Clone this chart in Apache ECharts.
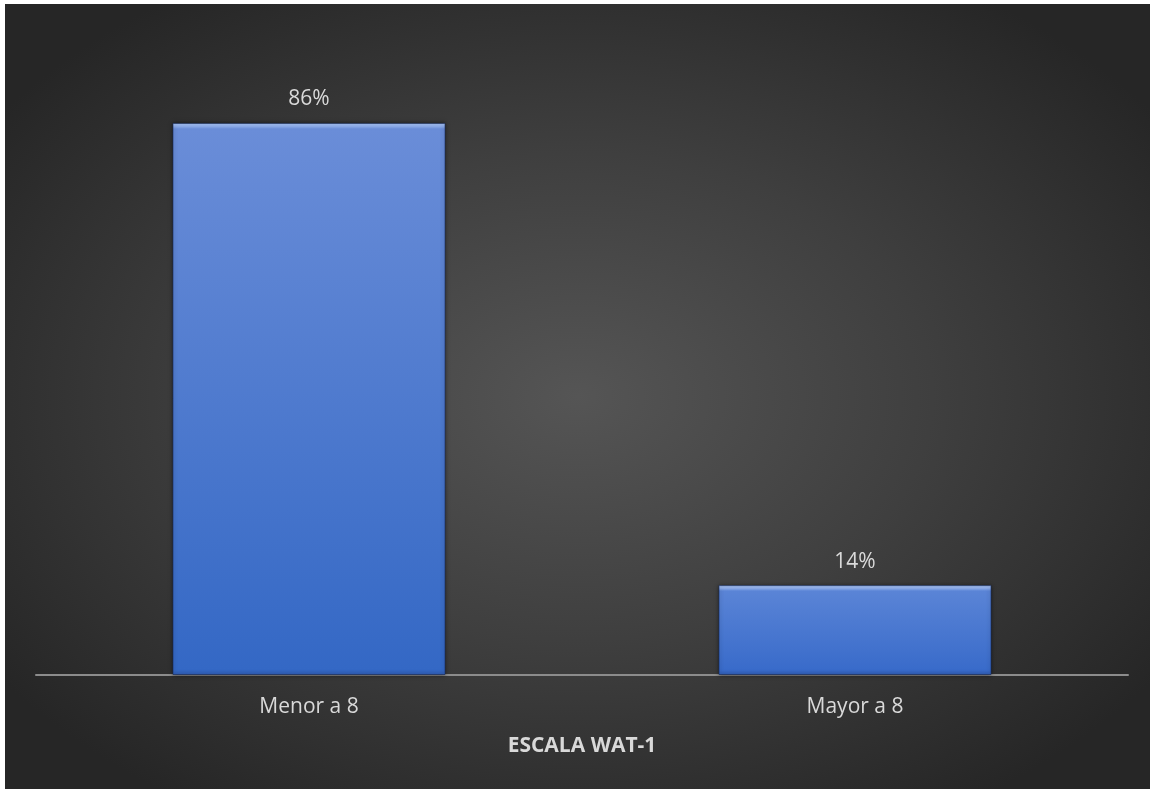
<!DOCTYPE html>
<html><head><meta charset="utf-8">
<script src="https://cdn.jsdelivr.net/npm/echarts@6/dist/echarts.min.js"></script>
<style>
html,body{margin:0;padding:0;background:#fff;width:1150px;height:789px;overflow:hidden;}
#c{position:absolute;left:5px;top:4px;width:1145px;height:785px;
background:radial-gradient(ellipse 62% 62% at 50% 50%, #555555 0%, #3f3f3f 50%, #262626 100%);}
</style></head>
<body><div id="c"></div>
<script>
const categories = ['Menor a 8', 'Mayor a 8'];
const values = [86, 14];
const axisTitle = 'ESCALA WAT-1';

const chart = echarts.init(document.getElementById('c'), null, {renderer: 'canvas'});
function bevel(h, top, bottom) {
  return {
    type: 'linear', x: 0, y: 0, x2: 0, y2: 1,
    colorStops: [
      {offset: 0, color: '#a9c4f5'},
      {offset: h * 0.5, color: '#93b2ee'},
      {offset: h, color: top},
      {offset: 1 - h * 0.8, color: bottom},
      {offset: 1, color: '#2f5cb3'}
    ]
  };
}
const bevels = [bevel(0.011, '#6a8dd8', '#3468c5'), bevel(0.066, '#5a84d6', '#396bca')];
chart.setOption({
  backgroundColor: 'transparent',
  grid: {left: 31, right: 22, top: 29, bottom: 114, containLabel: false},
  xAxis: {
    type: 'category', data: categories,
    axisLine: {lineStyle: {color: '#8c8c8c', width: 2}},
    axisTick: {show: false},
    axisLabel: {color: '#d9d9d9', fontSize: 21, fontFamily: 'Open Sans, sans-serif', margin: 22},
    name: axisTitle, nameLocation: 'middle', nameGap: 61,
    nameTextStyle: {color: '#d9d9d9', fontSize: 21, fontWeight: 'bold', fontFamily: 'Open Sans, sans-serif'}
  },
  yAxis: {type: 'value', min: 0, max: 100, show: false, splitLine: {show: false}},
  series: [{
    type: 'bar',
    data: values.map((v, i) => ({value: v, itemStyle: {color: bevels[i]}})),
    barWidth: '50%',
    itemStyle: {
      borderColor: 'rgba(20,40,90,0.6)', borderWidth: 1,
      shadowColor: 'rgba(0,0,0,0.5)', shadowBlur: 4
    },
    label: {
      show: true, position: 'top', distance: 13,
      formatter: p => p.value + '%',
      color: '#d9d9d9', fontSize: 21, fontFamily: 'Open Sans, sans-serif'
    }
  }]
});
</script></body></html>
